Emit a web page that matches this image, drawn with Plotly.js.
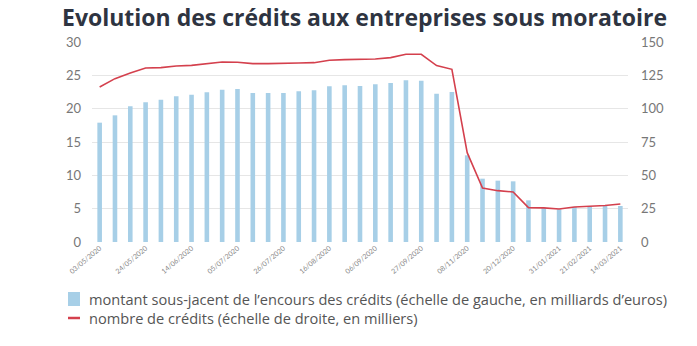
<!DOCTYPE html>
<html><head><meta charset="utf-8">
<script src="https://cdn.plot.ly/plotly-3.0.1.min.js"></script>
<style>html,body{margin:0;padding:0;background:#fff}#chart{width:697px;height:346px}</style>
</head><body><div id="chart"></div><script>
const dates = ["03/05/2020","10/05/2020","17/05/2020","24/05/2020","31/05/2020","07/06/2020","14/06/2020","21/06/2020","28/06/2020","05/07/2020","12/07/2020","19/07/2020","26/07/2020","02/08/2020","09/08/2020","16/08/2020","23/08/2020","30/08/2020","06/09/2020","13/09/2020","20/09/2020","27/09/2020","11/10/2020","25/10/2020","08/11/2020","22/11/2020","06/12/2020","20/12/2020","03/01/2021","17/01/2021","31/01/2021","07/02/2021","21/02/2021","28/02/2021","14/03/2021"];
const montant = [17.9,19.0,20.35,20.95,21.35,21.85,22.1,22.45,22.85,22.95,22.35,22.35,22.35,22.6,22.75,23.35,23.5,23.4,23.65,23.85,24.25,24.2,22.25,22.5,13.0,9.5,9.2,9.1,6.25,5.1,4.9,5.25,5.35,5.45,5.4];
const nombre = [116.3,122.5,126.8,130.5,130.8,132,132.5,133.8,135,134.8,133.8,133.8,134.3,134.3,134.5,136.3,136.8,136.8,137.3,138.3,140.8,140.8,132.3,129.5,67,40.5,38.5,37.5,25.8,25.6,24.7,26.2,26.7,27.4,28.5];
const tickDates = ["03/05/2020","24/05/2020","14/06/2020","05/07/2020","26/07/2020","16/08/2020","06/09/2020","27/09/2020","08/11/2020","20/12/2020","31/01/2021","21/02/2021","14/03/2021"];
const nameBars = "montant sous-jacent de l’encours des crédits (échelle de gauche, en milliards d’euros)";
const nameLine = "nombre de crédits (échelle de droite, en milliers)";
const titleText = "Evolution des crédits aux entreprises sous moratoire";

const W = 697, H = 346, L = 92, R = 69, T = 42, B = 104;
const pw = W - L - R, ph = H - T - B;
const px = x => (x - L) / pw;
const py = y => (H - B - y) / ph;

const traces = [
  {type:'bar', x:dates, y:montant, name:nameBars, marker:{color:'#a7cfe7'}, yaxis:'y', hoverinfo:'x+y'},
  {type:'scatter', mode:'lines', x:dates, y:nombre, name:nameLine, line:{color:'#d4404d', width:1.6}, yaxis:'y2'}
];
const font = 'Lato, "Open Sans", sans-serif';
const layout = {
  width:W, height:H, margin:{l:L, r:R, t:T, b:B}, paper_bgcolor:'#fff', plot_bgcolor:'#fff',
  showlegend:false, bargap:0.7,
  font:{family:font, color:'#777'},
  title:{text:'<b>'+titleText+'</b>', x:62/W, xanchor:'left', y:1-10/H, yanchor:'top', yref:'container', xref:'container',
    font:{family:'"Open Sans", sans-serif', size:23, color:'#2e3441'}},
  xaxis:{type:'category', tickmode:'array', tickvals:tickDates, ticktext:tickDates, tickangle:-40,
    tickfont:{size:7, color:'#888'}, showgrid:false, zeroline:false, showline:false, ticks:'', range:[-0.5, dates.length-0.5]},
  yaxis:{range:[0,30], dtick:5, gridcolor:'#e6e6e6', gridwidth:1, zeroline:false, showline:false, ticks:'',
    tickfont:{size:13, color:'#777'}, ticklabelstandoff:10},
  yaxis2:{range:[0,150], dtick:25, overlaying:'y', side:'right', showgrid:false, zeroline:false, showline:false, ticks:'',
    tickfont:{size:13, color:'#777'}, ticklabelstandoff:12},
  shapes:[
    {type:'rect', xref:'paper', yref:'paper', x0:px(68), x1:px(80), y0:py(306), y1:py(292), fillcolor:'#a7cfe7', line:{width:0}},
    {type:'line', xref:'paper', yref:'paper', x0:px(68), x1:px(80), y0:py(318), y1:py(318), line:{color:'#d4404d', width:2.5}}
  ],
  annotations:[
    {xref:'paper', yref:'paper', x:px(87), y:py(299), xanchor:'left', yanchor:'middle', showarrow:false, text:nameBars, font:{size:14.6, color:'#555', family:'"Open Sans", sans-serif'}},
    {xref:'paper', yref:'paper', x:px(87), y:py(318), xanchor:'left', yanchor:'middle', showarrow:false, text:nameLine, font:{size:14.6, color:'#555', family:'"Open Sans", sans-serif'}}
  ]
};
Plotly.newPlot('chart', traces, layout, {displayModeBar:false, staticPlot:true});
</script></body></html>
